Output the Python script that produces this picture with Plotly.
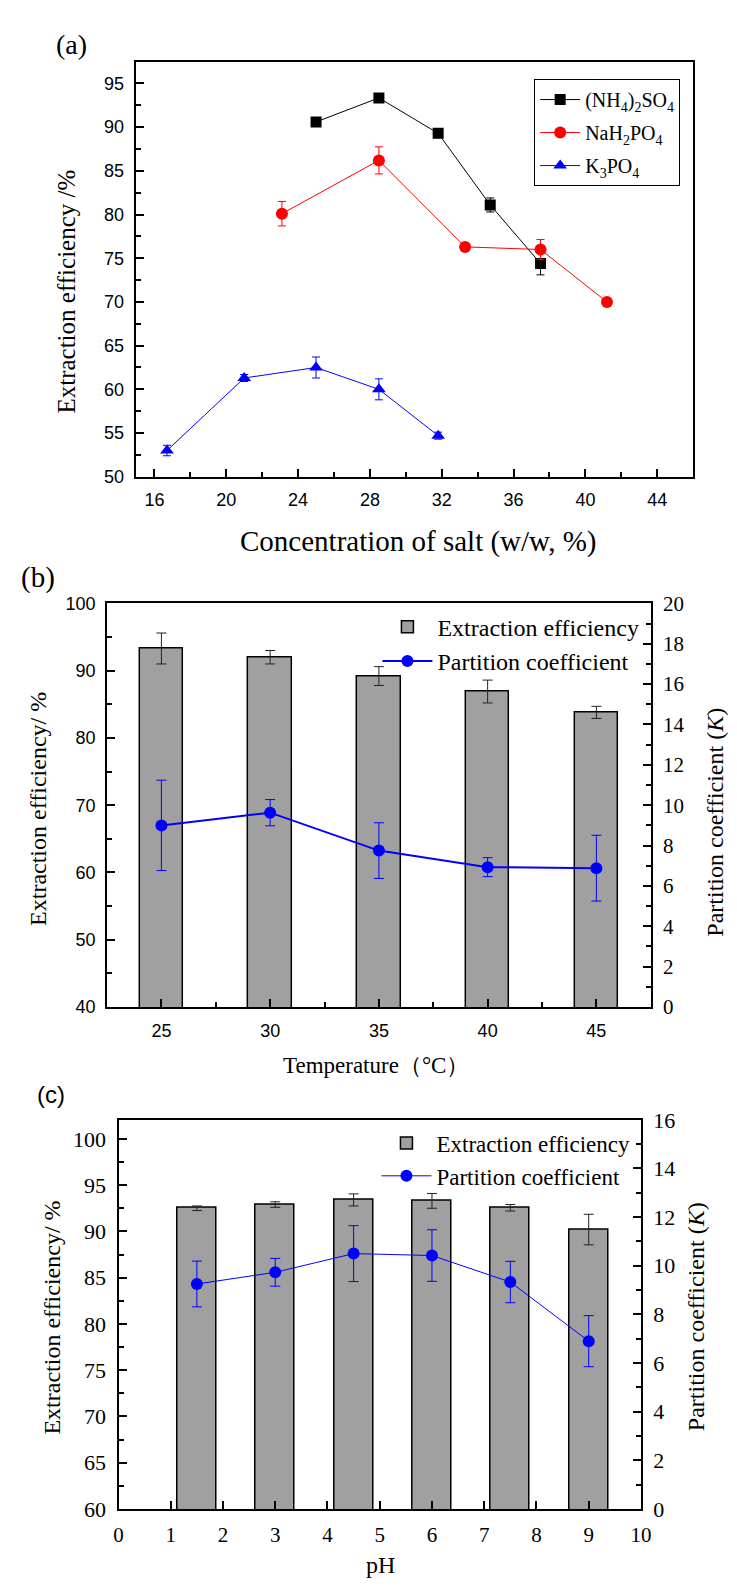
import plotly.graph_objects as go

W, H = 737, 1596
def px(x): return x / W
def py(y): return 1 - y / H

SANS = "Liberation Sans, Arial, sans-serif"
SERIF = "Liberation Serif, Times New Roman, serif"

# ---------- (a) data ----------
ams_x = [25.0, 28.5, 31.8, 34.7, 37.5]
ams_y = [90.6, 93.35, 89.3, 81.1, 74.4]
ams_err = [0.3, 0.3, 0.5, 0.8, 1.3]
nah_x = [23.1, 28.5, 33.3, 37.5, 41.2]
nah_y = [80.1, 86.2, 76.3, 76.0, 70.0]
nah_err = [1.4, 1.55, 0.4, 1.15, 0.3]
k3_x = [16.7, 21.0, 25.0, 28.5, 31.8]
k3_y = [53.0, 61.3, 62.5, 60.0, 54.7]
k3_err = [0.6, 0.4, 1.2, 1.2, 0.4]

# ---------- (b) data ----------
temp = [25, 30, 35, 40, 45]
temp_ee = [93.3, 92.0, 89.2, 86.9, 83.8]
temp_ee_err = [2.3, 1.0, 1.4, 1.7, 0.9]
temp_k = [9.0, 9.63, 7.75, 6.93, 6.88]
temp_k_err = [2.24, 0.65, 1.38, 0.47, 1.63]

# ---------- (c) data ----------
ph = [1.5, 3, 4.5, 6, 7.5, 9]
ph_ee = [92.5, 92.9, 93.4, 93.3, 92.55, 90.2]
ph_ee_err = [0.25, 0.3, 0.65, 0.8, 0.35, 1.65]
ph_k = [9.25, 9.73, 10.5, 10.42, 9.33, 6.9]
ph_k_err = [0.94, 0.57, 1.15, 1.06, 0.85, 1.05]

fig = go.Figure()

def err(arr, color, width=4, thick=1):
    return dict(type="data", array=arr, visible=True, color=color, thickness=thick, width=width)

# (a)
fig.add_trace(go.Scatter(x=ams_x, y=ams_y, mode="lines+markers", name="(NH<sub>4</sub>)<sub>2</sub>SO<sub>4</sub>",
                         line=dict(color="black", width=1), marker=dict(symbol="square", size=11, color="black"),
                         error_y=err(ams_err, "black"), xaxis="x", yaxis="y", legend="legend", legendgroup="a1"))
fig.add_trace(go.Scatter(x=nah_x, y=nah_y, mode="lines+markers", name="NaH<sub>2</sub>PO<sub>4</sub>",
                         line=dict(color="#ff0000", width=1), marker=dict(symbol="circle", size=12, color="#ff0000"),
                         error_y=err(nah_err, "#ff0000"), xaxis="x", yaxis="y", legend="legend", legendgroup="a2"))
fig.add_trace(go.Scatter(x=k3_x, y=k3_y, mode="lines+markers", name="K<sub>3</sub>PO<sub>4</sub>",
                         line=dict(color="#0000ff", width=1), marker=dict(symbol="triangle-up", size=12, color="#0000ff"),
                         error_y=err(k3_err, "#0000ff"), xaxis="x", yaxis="y", legend="legend", legendgroup="a3"))

# (b)
fig.add_trace(go.Bar(x=temp, y=temp_ee, width=2, name="Extraction efficiency",
                     marker=dict(color="#a0a0a0", line=dict(color="black", width=1.5)),
                     error_y=err(temp_ee_err, "#222222", width=5),
                     xaxis="x2", yaxis="y2", legend="legend2"))
fig.add_trace(go.Scatter(x=temp, y=temp_k, mode="lines+markers", name="Partition coefficient",
                         line=dict(color="#0000ff", width=2), marker=dict(symbol="circle", size=12, color="#0000ff"),
                         error_y=err(temp_k_err, "#0000ff", width=5),
                         xaxis="x2", yaxis="y3", legend="legend2"))

# (c)
fig.add_trace(go.Bar(x=ph, y=ph_ee, width=0.75, name="Extraction efficiency",
                     marker=dict(color="#a0a0a0", line=dict(color="black", width=1.5)),
                     error_y=err(ph_ee_err, "#222222", width=5),
                     xaxis="x3", yaxis="y4", legend="legend3"))
fig.add_trace(go.Scatter(x=ph, y=ph_k, mode="lines+markers", name="Partition coefficient",
                         line=dict(color="#0000ff", width=1), marker=dict(symbol="circle", size=12, color="#0000ff"),
                         error_y=err(ph_k_err, "#0000ff", width=5),
                         xaxis="x3", yaxis="y5", legend="legend3"))

def axis(**kw):
    base = dict(showline=True, linecolor="black", linewidth=2, ticks="inside", ticklen=8, tickwidth=1.5,
                tickcolor="black", showgrid=False, zeroline=False, ticklabelstandoff=6)
    base.update(kw)
    return base

def minor(dt, length=5):
    return dict(dtick=dt, ticks="inside", ticklen=length, tickwidth=1.5, tickcolor="black", showgrid=False)

layout = dict(
    width=W, height=H, margin=dict(l=0, r=0, t=0, b=0),
    plot_bgcolor="white", paper_bgcolor="white",
    showlegend=True,
    xaxis=axis(domain=[px(125.3), px(694.3)], anchor="y", range=[14.96, 46.0], tick0=16, dtick=4,
               minor=minor(2), mirror=True, tickfont=dict(family=SANS, size=18, color="black")),
    yaxis=axis(domain=[py(464), py(42.3)], anchor="x", range=[50, 97.5], tick0=50, dtick=5,
               minor=minor(2.5), mirror=True, tickfont=dict(family=SANS, size=18, color="black")),
    xaxis2=axis(domain=[px(96), px(651)], anchor="y2", range=[22.5, 47.5], tick0=25, dtick=5,
                minor=minor(2.5), mirror=True, tickfont=dict(family=SANS, size=18, color="black")),
    yaxis2=axis(domain=[py(1002.7), py(592.7)], anchor="x2", range=[40, 100], tick0=40, dtick=10,
                minor=minor(5), tickfont=dict(family=SANS, size=18, color="black")),
    yaxis3=axis(overlaying="y2", side="right", anchor="x2", range=[0, 20], tick0=0, dtick=2,
                minor=minor(1), tickfont=dict(family=SERIF, size=21, color="black")),
    xaxis3=axis(domain=[px(107.7), px(641)], anchor="y4", range=[0, 10], tick0=0, dtick=1,
                mirror=True, tickfont=dict(family=SERIF, size=21, color="black")),
    yaxis4=axis(domain=[py(1512.7), py(1117.3)], anchor="x3", range=[60, 102.06], tick0=60, dtick=5,
                minor=minor(2.5), tickfont=dict(family=SERIF, size=22, color="black")),
    yaxis5=axis(overlaying="y4", side="right", anchor="x3", range=[0, 16], tick0=0, dtick=2,
                minor=minor(1), tickfont=dict(family=SERIF, size=22, color="black")),
    legend=dict(x=px(532), y=py(60), xanchor="left", yanchor="top", bordercolor="black", borderwidth=1,
                bgcolor="white", font=dict(family=SERIF, size=20, color="black"), itemwidth=40,
                tracegroupgap=4),
    legend2=dict(x=px(372), y=py(594), xanchor="left", yanchor="top", borderwidth=0,
                 bgcolor="rgba(0,0,0,0)", font=dict(family=SERIF, size=24, color="black"), itemwidth=50),
    legend3=dict(x=px(371), y=py(1119), xanchor="left", yanchor="top", borderwidth=0,
                 bgcolor="rgba(0,0,0,0)", font=dict(family=SERIF, size=23, color="black"), itemwidth=50),
    bargap=0,
)

ann = []
def text(t, x, y, size, family=SERIF, angle=0, xanchor="center"):
    ann.append(dict(text=t, x=px(x), y=py(y), xref="paper", yref="paper", showarrow=False,
                    textangle=angle, xanchor=xanchor, yanchor="middle",
                    font=dict(family=family, size=size, color="black")))

# panel labels
text("(a)", 42, 25, 28, xanchor="left")
text("(b)", 6, 566.7, 29, xanchor="left")
text("(c)", 22, 1091.7, 24, family=SANS, xanchor="left")
# axis titles (a)
text("Concentration of salt (w/w, %)", 413.7, 530, 29)
text("Extraction efficiency /%", 55, 276, 25, angle=-90)
# (b)
text("Temperature（°C）", 371, 1061.7, 23)
text("Extraction efficiency/ %", 26, 801, 24, angle=-90)
text("Partition coefficient (<i>K</i>)", 717, 815, 24, angle=-90)
# (c)
text("pH", 374.7, 1570, 24)
text("Extraction efficiency/ %", 40, 1318, 24, angle=-90)
text("Partition coefficient (<i>K</i>)", 698, 1317, 24, angle=-90)

layout["annotations"] = ann
fig.update_layout(**layout)
fig.write_html("out.html")
